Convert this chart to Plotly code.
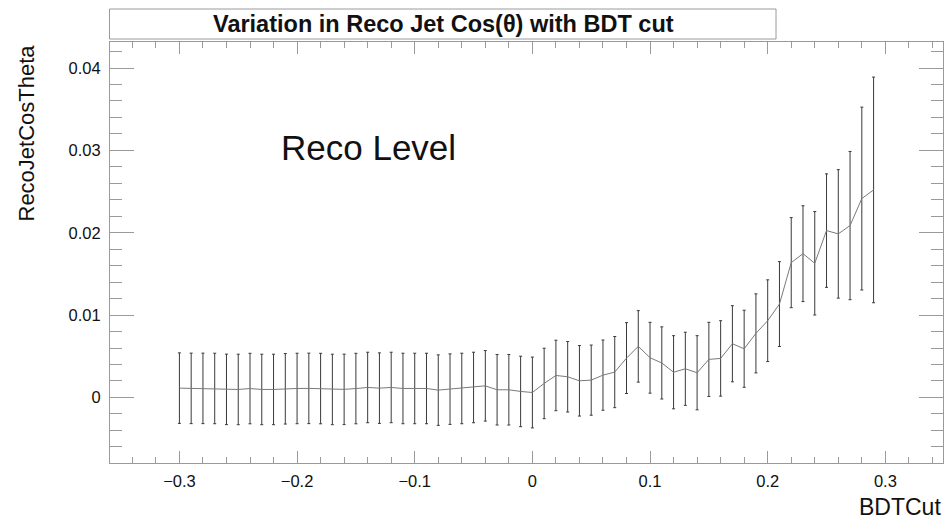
import plotly.graph_objects as go

# BDT cut scan: mean reconstructed jet cos(theta) and its uncertainty
bdt_cut = [round(-0.30 + 0.01 * i, 2) for i in range(60)]

reco_cos_theta = [
    0.00113, 0.00110, 0.00110, 0.00109, 0.00098, 0.00097, 0.00108, 0.00097,
    0.00097, 0.00105, 0.00109, 0.00110, 0.00108, 0.00097, 0.00098, 0.00108,
    0.00121, 0.00113, 0.00121, 0.00109, 0.00109, 0.00109, 0.00089, 0.00101,
    0.00109, 0.00121, 0.00141, 0.00093, 0.00093, 0.00073, 0.00060, 0.00170,
    0.00267, 0.00251, 0.00202, 0.00210, 0.00271, 0.00308, 0.00478, 0.00620,
    0.00482, 0.00419, 0.00306, 0.00348, 0.00300, 0.00462, 0.00474, 0.00652,
    0.00591, 0.00778, 0.00932, 0.01134, 0.01637, 0.01746, 0.01629, 0.02026,
    0.01986, 0.02087, 0.02415, 0.02520,
]

reco_cos_theta_err = [0.00428] * 30 + [
    0.00430, 0.00428, 0.00428, 0.00428, 0.00428, 0.00426, 0.00426, 0.00432,
    0.00430, 0.00434, 0.00430, 0.00438, 0.00444, 0.00444, 0.00450, 0.00450,
    0.00458, 0.00462, 0.00468, 0.00480, 0.00496, 0.00515, 0.00547, 0.00582,
    0.00628, 0.00689, 0.00780, 0.00900, 0.01110, 0.01370,
]

title_text = "<b>Variation in Reco Jet Cos(θ) with BDT cut</b>"
x_title = "BDTCut"
y_title = "RecoJetCosTheta"
label_text = "Reco Level"

# axis ranges padded by 10% of the data span on each side
x_span = max(bdt_cut) - min(bdt_cut)
x_range = [min(bdt_cut) - 0.1 * x_span, max(bdt_cut) + 0.1 * x_span]
lo = min(v - e for v, e in zip(reco_cos_theta, reco_cos_theta_err))
hi = max(v + e for v, e in zip(reco_cos_theta, reco_cos_theta_err))
y_range = [lo - 0.1 * (hi - lo), hi + 0.1 * (hi - lo)]

FONT = "Liberation Sans, Arial, sans-serif"
FRAME = "#9a9a9a"

fig = go.Figure()
fig.add_trace(go.Scatter(
    x=bdt_cut,
    y=reco_cos_theta,
    mode="lines",
    line=dict(color="#7a7a7a", width=1),
    error_y=dict(type="data", array=reco_cos_theta_err, visible=True,
                 color="#3a3a3a", thickness=1, width=1.5),
    showlegend=False,
))

L, R, T, B = 110, 8, 42, 58
W, H = 951, 521

fig.update_layout(
    width=W, height=H,
    margin=dict(l=L, r=R, t=T, b=B),
    paper_bgcolor="white",
    plot_bgcolor="white",
    font=dict(family=FONT, color="#111111"),
)

fig.update_xaxes(
    range=x_range,
    tickmode="linear", tick0=0, dtick=0.1,
    ticks="inside", ticklen=12, tickcolor=FRAME, tickwidth=1,
    minor=dict(ticks="inside", tick0=0, dtick=0.02, ticklen=6,
               tickcolor=FRAME, tickwidth=1, showgrid=False),
    showline=True, linecolor=FRAME, linewidth=1, mirror="allticks",
    showgrid=False, zeroline=False,
    tickfont=dict(family=FONT, size=16.5, color="#111111"),
    ticklabelstandoff=3,
)
fig.update_yaxes(
    range=y_range,
    tickmode="linear", tick0=0, dtick=0.01,
    ticks="inside", ticklen=24, tickcolor=FRAME, tickwidth=1,
    minor=dict(ticks="inside", tick0=0, dtick=0.002, ticklen=12,
               tickcolor=FRAME, tickwidth=1, showgrid=False),
    showline=True, linecolor=FRAME, linewidth=1, mirror="allticks",
    showgrid=False, zeroline=False,
    tickfont=dict(family=FONT, size=16.5, color="#111111"),
    ticklabelstandoff=5,
)

pw, ph = W - L - R, H - T - B


def px_x(p):
    return (p - L) / pw


def px_y(p):
    return (H - B - p) / ph


# boxed title
fig.add_shape(type="rect", xref="paper", yref="paper",
              x0=px_x(109.5), x1=px_x(776), y0=px_y(39), y1=px_y(9),
              line=dict(color=FRAME, width=1), fillcolor="white")
fig.add_annotation(text=title_text, xref="paper", yref="paper",
                   x=px_x(443), y=px_y(24), xanchor="center", yanchor="middle",
                   showarrow=False, font=dict(family=FONT, size=23.5, color="#111111"))

# axis titles, aligned to the far end of each axis
fig.add_annotation(text=x_title, xref="paper", yref="paper",
                   x=1.0, y=px_y(507), xanchor="right", yanchor="middle",
                   showarrow=False, font=dict(family=FONT, size=23, color="#111111"))
fig.add_annotation(text=y_title, xref="paper", yref="paper",
                   x=px_x(26), y=px_y(43), xanchor="center", yanchor="top",
                   textangle=-90, showarrow=False,
                   font=dict(family=FONT, size=22, color="#111111"))

# in-plot label
fig.add_annotation(text=label_text, xref="paper", yref="paper",
                   x=px_x(279), y=px_y(147), xanchor="left", yanchor="middle",
                   showarrow=False, font=dict(family=FONT, size=35, color="#111111"))

fig.write_html("out.html")
